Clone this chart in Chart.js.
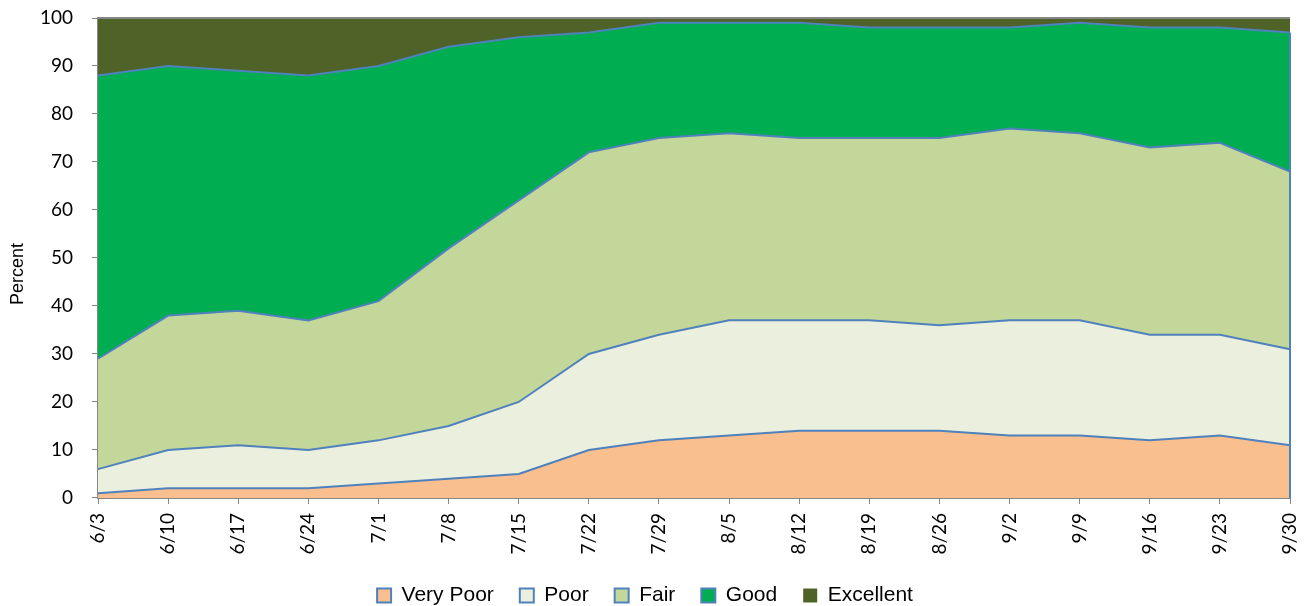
<!DOCTYPE html>
<html>
<head>
<meta charset="utf-8">
<script src="https://cdn.jsdelivr.net/npm/chart.js@4.4.1/dist/chart.umd.min.js"></script>
<style>
  html, body { margin: 0; padding: 0; background: #fff; }
  #wrap { width: 1309px; height: 606px; }
</style>
</head>
<body>
<div id="wrap"><canvas id="grafico1" width="1309" height="606"></canvas></div>
<script>
const semanas = ["6/3", "6/10", "6/17", "6/24", "7/1", "7/8", "7/15", "7/22", "7/29",
                 "8/5", "8/12", "8/19", "8/26", "9/2", "9/9", "9/16", "9/23", "9/30"];

const muitoRuim = [1, 2, 2, 2, 3, 4, 5, 10, 12, 13, 14, 14, 14, 13, 13, 12, 13, 11];
const ruim      = [5, 8, 9, 8, 9, 11, 15, 20, 22, 24, 23, 23, 22, 24, 24, 22, 21, 20];
const regular   = [23, 28, 28, 27, 29, 37, 42, 42, 41, 39, 38, 38, 39, 40, 39, 39, 40, 37];
const bom       = [59, 52, 50, 51, 49, 42, 34, 25, 24, 23, 24, 23, 23, 21, 23, 25, 24, 29];
const excelente = [12, 10, 11, 12, 10, 6, 4, 3, 1, 1, 1, 2, 2, 2, 1, 2, 2, 3];

const yTicks = [0, 10, 20, 30, 40, 50, 60, 70, 80, 90, 100];
const tituloY = "Percent";

const azulBorda = "#4F81BD";
const cinzaEixo = "#868686";
const fonteTicks = "Lato, 'Open Sans', sans-serif";
const fonteArial = "'Liberation Sans', Arial, sans-serif";

// moldura do topo, borda direita da area e titulo do eixo y (como no Excel)
const moldura = {
    id: "moldura",
    afterDatasetsDraw(chart) {
        const { ctx, chartArea, scales } = chart;
        const ultimo = semanas.length - 1;
        const topoBom = muitoRuim[ultimo] + ruim[ultimo] + regular[ultimo] + bom[ultimo];
        ctx.save();
        ctx.strokeStyle = azulBorda;
        ctx.lineWidth = 2;
        ctx.beginPath();
        ctx.moveTo(chartArea.right, scales.y.getPixelForValue(topoBom));
        ctx.lineTo(chartArea.right, chartArea.bottom);
        ctx.stroke();
        ctx.strokeStyle = cinzaEixo;
        ctx.beginPath();
        ctx.moveTo(chartArea.left, chartArea.top);
        ctx.lineTo(chartArea.right, chartArea.top);
        ctx.stroke();
        ctx.restore();
    },
    afterDraw(chart) {
        const { ctx } = chart;
        ctx.save();
        ctx.translate(18, 274);
        ctx.rotate(-Math.PI / 2);
        ctx.fillStyle = "#000";
        ctx.font = "18px " + fonteArial;
        ctx.textAlign = "center";
        ctx.textBaseline = "middle";
        ctx.fillText(tituloY, 0, 0);
        ctx.restore();
    }
};

function serie(label, dados, cor, fill, borda) {
    return {
        label: label,
        data: dados,
        backgroundColor: cor,
        borderColor: borda ? azulBorda : cor,
        borderWidth: borda ? 2 : 0,
        fill: fill,
        tension: 0,
        pointRadius: 0
    };
}

const ctx = document.getElementById("grafico1").getContext("2d");

new Chart(ctx, {
    type: "line",
    data: {
        labels: semanas,
        datasets: [
            serie("Very Poor", muitoRuim, "#F9BF8F", "origin", true),
            serie("Poor", ruim, "#EBF0DE", "-1", true),
            serie("Fair", regular, "#C4D79B", "-1", true),
            serie("Good", bom, "#00AD50", "-1", true),
            serie("Excellent", excelente, "#4F6228", "-1", false)
        ]
    },
    options: {
        responsive: false,
        animation: false,
        layout: { autoPadding: false, padding: { top: 18, right: 19, left: 0, bottom: -10 } },
        plugins: {
            tooltip: { enabled: false },
            legend: {
                position: "bottom",
                labels: {
                    color: "#000",
                    font: { family: fonteArial, size: 21 },
                    boxWidth: 14,
                    boxHeight: 14,
                    padding: 26
                }
            }
        },
        scales: {
            x: {
                offset: false,
                afterFit: s => {
                    s.height = s.height - 4.6;
                    s.paddingLeft = 0;
                    s.paddingRight = 0;
                },
                grid: { drawOnChartArea: false, drawTicks: true, tickLength: 6, tickColor: cinzaEixo, tickWidth: 1 },
                border: { color: cinzaEixo, width: 2 },
                ticks: {
                    color: "#000",
                    font: { family: fonteTicks, size: 19 },
                    maxRotation: 90,
                    minRotation: 90,
                    autoSkip: false,
                    padding: 9
                }
            },
            y: {
                stacked: true,
                min: 0,
                max: 100,
                afterBuildTicks: s => { s.ticks = yTicks.map(v => ({ value: v })); },
                afterFit: s => {
                    s.width = 98;
                    s.paddingTop = 0;
                    s.paddingBottom = 0;
                },
                grid: { drawOnChartArea: false, drawTicks: true, tickLength: 6, tickColor: cinzaEixo, tickWidth: 1 },
                border: { color: cinzaEixo, width: 2 },
                ticks: {
                    color: "#000",
                    font: { family: fonteTicks, size: 19 },
                    padding: 19
                },
                title: { display: false }
            }
        }
    },
    plugins: [moldura]
});
</script>
</body>
</html>
